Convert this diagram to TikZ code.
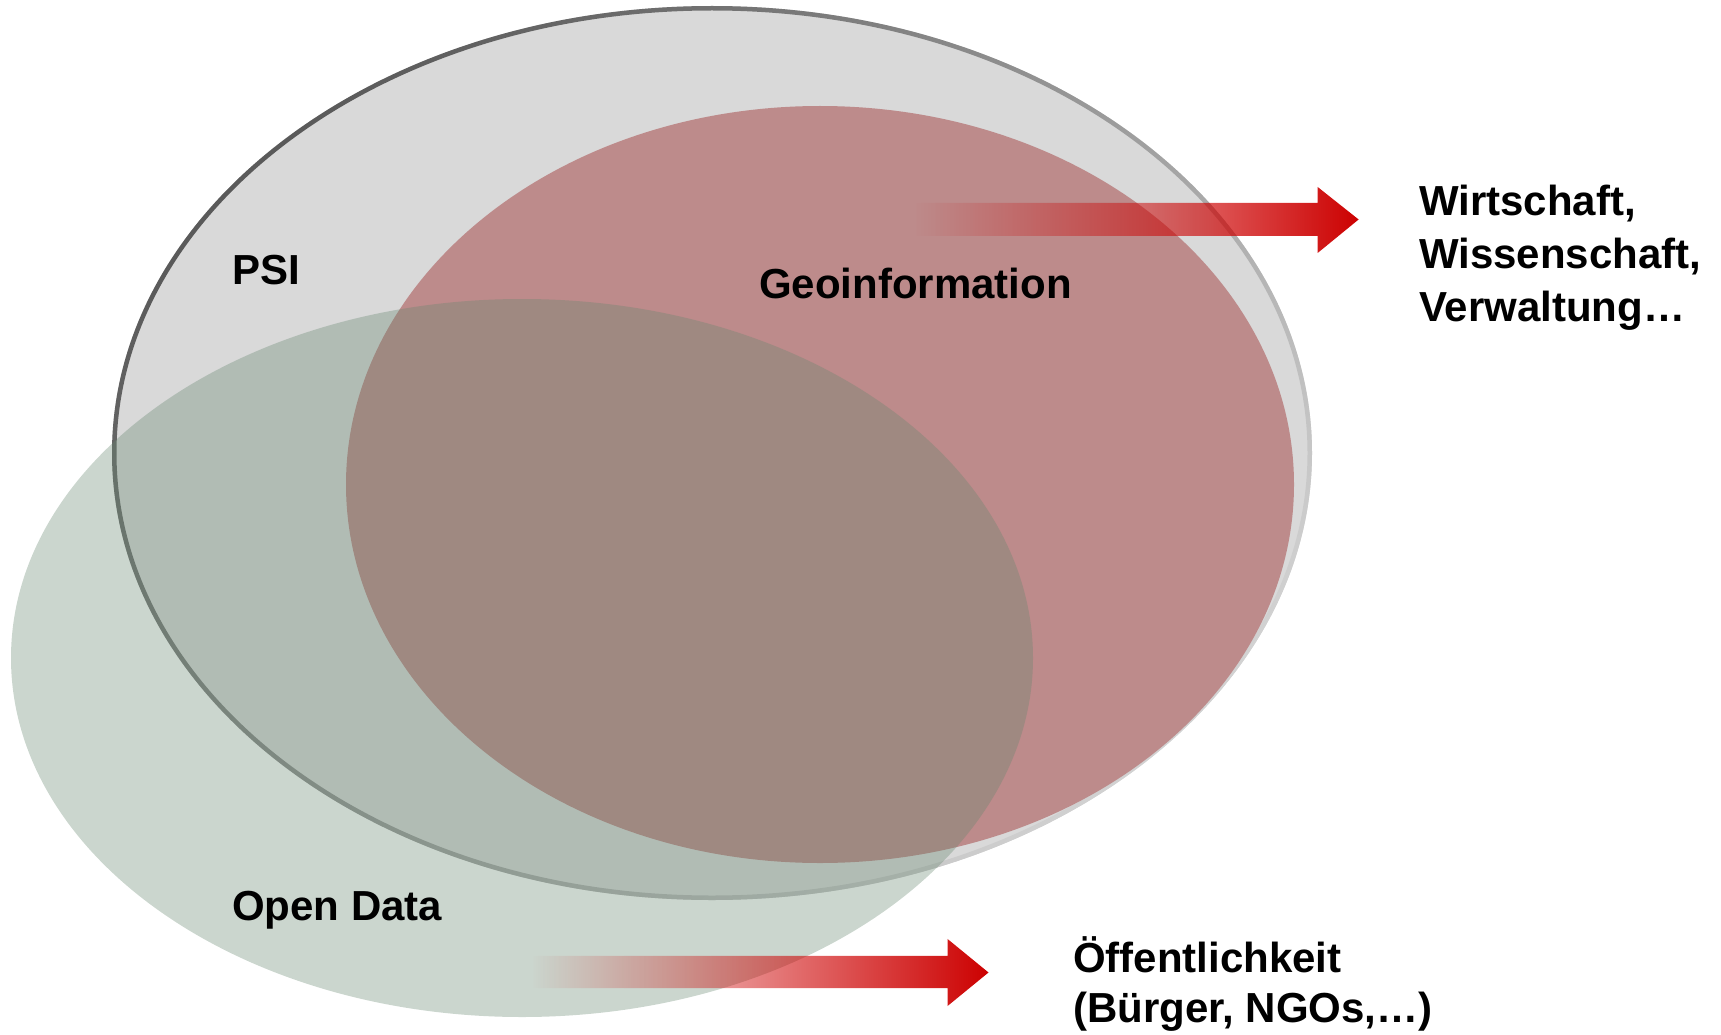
\documentclass[tikz,border=0pt]{standalone}
\usepackage{fontspec}
\setmainfont{Liberation Sans}
\usetikzlibrary{fadings}
\definecolor{psigrey}{HTML}{D9D9D9}
\definecolor{geored}{HTML}{BD8B8B}
\definecolor{odgreen}{RGB}{102,134,111}
\definecolor{arrowred}{HTML}{CC0000}
\definecolor{rimdark}{HTML}{5A5A5A}
\definecolor{rimlight}{HTML}{D2D2D2}
\tikzfading[name=arrowfade, left color=transparent!100, right color=transparent!0]
\begin{document}
\begin{tikzpicture}[x=1pt,y=1pt,
  lbl/.style={font=\fontsize{42}{50}\selectfont\bfseries, inner sep=0pt, anchor=base west, text=black},
  flow/.style={fill=arrowred, path fading=arrowfade}]
\useasboundingbox (0,0) rectangle (1721,-1035);
% PSI
\fill[psigrey] (712,-453) ellipse [x radius=600, y radius=447];
\shade[even odd rule, top color=rimdark, bottom color=rimlight, shading angle=45]
  (712,-453) ellipse [x radius=600, y radius=447]
  (712,-453) ellipse [x radius=595.5, y radius=442.5];
% Geoinformation
\fill[geored] (820,-484.5) ellipse [x radius=474, y radius=378.5];
% Open Data
\fill[odgreen, fill opacity=0.34] (522,-658) ellipse [x radius=511, y radius=359];
% arrows
\fill[flow] (915,-203) -- (1318,-203) -- (1318,-187) -- (1359,-219.5) -- (1318,-253) -- (1318,-236) -- (915,-236) -- cycle;
\fill[flow] (532,-956) -- (948,-956) -- (948,-939) -- (989,-972.5) -- (948,-1006) -- (948,-988) -- (532,-988) -- cycle;
% labels
\node[lbl] (psi) at (232,-284) {PSI};
\node[lbl] (geo) at (759,-298) {Geoinformation};
\node[lbl] (od) at (232,-920) {Open Data};
\node[lbl] (wi1) at (1419,-215) {Wirtschaft,};
\node[lbl] (wi2) at (1419,-268) {Wissenschaft,};
\node[lbl] (wi3) at (1419,-321) {Verwaltung…};
\node[lbl] (oe1) at (1073,-972) {Öffentlichkeit};
\node[lbl] (oe2) at (1073,-1022) {(Bürger, NGOs,…)};
\end{tikzpicture}
\end{document}
